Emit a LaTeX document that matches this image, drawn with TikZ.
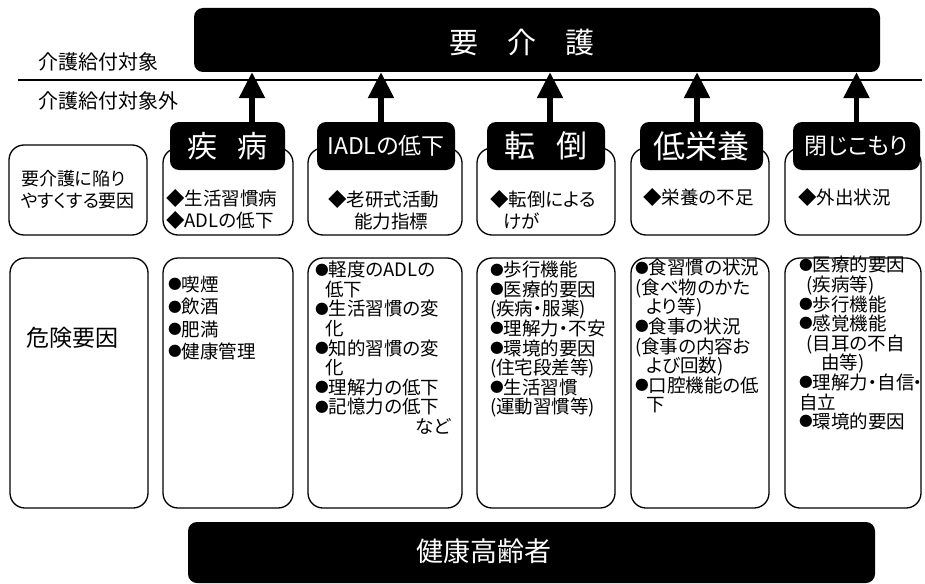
\documentclass[tikz,border=0pt]{standalone}
\usepackage{fontspec}
\setmainfont{Noto Sans CJK JP}[RawFeature=+palt]
\usetikzlibrary{arrows.meta}
\newcommand{\bul}{\raisebox{0.09em}{\scalebox{0.74}{●}}}

\begin{document}
\begin{tikzpicture}[x=1pt,y=-1pt,
        blackbox/.style={fill=black,rounded corners=9pt,inner sep=0pt,text=white},
        whitebox/.style={draw,line width=1.3pt,rounded corners=15pt,inner sep=0pt},
        uparrow/.style={line width=5.5pt,-{Triangle[width=25pt,length=26pt]}},
        link/.style={double,double distance=1.2pt,line width=0.8pt},
        txta/.style={anchor=north west,inner sep=0pt,align=left,font=\fontsize{18.5}{22}\selectfont},
        txtb/.style={anchor=north west,inner sep=0pt,align=left,font=\fontsize{18.5}{19.6}\selectfont}]
    \useasboundingbox (0,0) rectangle (925,583);
    \node[blackbox,minimum width=686pt,minimum height=64pt] (care) at (537,40) {};
    \node[text=white,inner sep=0pt,font=\fontsize{29}{29}\selectfont] (caretxt) at (522,42) {要\hspace{1em}介\hspace{1em}護};
    \coordinate (lineL) at (18,80);
    \coordinate (lineR) at (922,80);
    \draw[line width=2pt] (lineL) -- (lineR);
    \node[anchor=west,inner sep=0pt,font=\fontsize{20}{20}\selectfont] (inside) at (38,62) {介護給付対象};
    \node[anchor=west,inner sep=0pt,font=\fontsize{20}{20}\selectfont] (outside) at (38,101) {介護給付対象外};

    \node[whitebox,minimum width=138pt,minimum height=90pt,align=left,font=\fontsize{18}{22}\selectfont] (cause) at (78,190) {要介護に陥り\\やすくする要因};
    \node[whitebox,minimum width=138pt,minimum height=250pt] (risk) at (79,383) {};
    \node[inner sep=0pt,font=\fontsize{23}{23}\selectfont] (risktxt) at (72,338) {危険要因};

    \node[whitebox,minimum width=130pt,minimum height=87pt] (disA) at (228,191.5) {};
    \node[whitebox,minimum width=154pt,minimum height=87pt] (iadlA) at (385,191.5) {};
    \node[whitebox,minimum width=138pt,minimum height=87pt] (fallA) at (546,191.5) {};
    \node[whitebox,minimum width=138pt,minimum height=87pt] (nutA) at (700,191.5) {};
    \node[whitebox,minimum width=136pt,minimum height=87pt] (homeA) at (853,191.5) {};

    \node[whitebox,minimum width=130pt,minimum height=250pt] (disB) at (228,383) {};
    \node[whitebox,minimum width=154pt,minimum height=250pt] (iadlB) at (385,383) {};
    \node[whitebox,minimum width=138pt,minimum height=250pt] (fallB) at (546,383) {};
    \node[whitebox,minimum width=138pt,minimum height=250pt] (nutB) at (700,383) {};
    \node[whitebox,minimum width=136pt,minimum height=250pt] (homeB) at (853,383) {};

    \node[blackbox,minimum width=115pt,minimum height=48pt,font=\fontsize{30}{30}\selectfont] (dis) at (227.5,146) {疾\hspace{0.7em}病};
    \node[blackbox,minimum width=138pt,minimum height=48pt,font=\fontsize{23}{23}\selectfont] (iadl) at (386,146) {IADLの低下};
    \node[blackbox,minimum width=118pt,minimum height=48pt,font=\fontsize{31}{31}\selectfont] (fall) at (546,146) {転\hspace{0.7em}倒};
    \node[blackbox,minimum width=123pt,minimum height=48pt,font=\fontsize{32}{32}\selectfont] (nut) at (701.5,146) {低栄養};
    \node[blackbox,minimum width=127pt,minimum height=48pt,font=\fontsize{23}{23}\selectfont] (home) at (856.5,146) {閉じこもり};

    \draw[uparrow] ([xshift=24.5pt]dis.north) -- ([xshift=24.5pt]dis.north |- care.south);
    \draw[uparrow] ([xshift=-5pt]iadl.north) -- ([xshift=-5pt]iadl.north |- care.south);
    \draw[uparrow] ([xshift=4pt]fall.north) -- ([xshift=4pt]fall.north |- care.south);
    \draw[uparrow] ([xshift=-4.5pt]nut.north) -- ([xshift=-4.5pt]nut.north |- care.south);
    \draw[uparrow] (home.north) -- (home.north |- care.south);

    \draw[link] (disA) -- (disB);
    \draw[link] (iadlA) -- (iadlB);
    \draw[link] (fallA) -- (fallB);
    \draw[link] (nutA) -- (nutB);
    \draw[link] (homeA) -- (homeB);

    \node[txta] (disAtxt) at (166,189) {◆生活習慣病\\◆ADLの低下};
    \node[txta] (iadlAtxt) at (328,190) {◆老研式活動\\\hspace*{1.4em}能力指標};
    \node[txta] (fallAtxt) at (490,190) {◆転倒による\\\hspace*{0.7em}けが};
    \node[txta] (nutAtxt) at (643,188) {◆栄養の不足};
    \node[txta] (homeAtxt) at (798,188) {◆外出状況};

    \node[txtb,font=\fontsize{18.5}{22.3}\selectfont] (disBtxt) at (168,276) {\bul 喫煙\\\bul 飲酒\\\bul 肥満\\\bul 健康管理};
    \node[txtb] (iadlBtxt) at (315,261) {\bul 軽度のADLの\\\hspace*{0.55em}低下\\\bul 生活習慣の変\\\hspace*{0.55em}化\\\bul 知的習慣の変\\\hspace*{0.55em}化\\\bul 理解力の低下\\\bul 記憶力の低下\\\hspace*{5.4em}など};
    \node[txtb] (fallBtxt) at (490,261) {\bul 歩行機能\\\bul 医療的要因\\(疾病・服薬)\\\bul 理解力・不安\\\bul 環境的要因\\(住宅段差等)\\\bul 生活習慣\\(運動習慣等)};
    \node[txtb] (nutBtxt) at (635,259) {\bul 食習慣の状況\\(食べ物のかた\\\hspace*{0.6em}より等)\\\bul 食事の状況\\(食事の内容お\\\hspace*{0.6em}よび回数)\\\bul 口腔機能の低\\\hspace*{0.6em}下};
    \node[txtb] (homeBtxt) at (799,256) {\bul 医療的要因\\\hspace*{0.4em}(疾病等)\\\bul 歩行機能\\\bul 感覚機能\\\hspace*{0.4em}(目耳の不自\\\hspace*{1.2em}由等)\\\bul 理解力・自信\kern-0.1em・\\自立\\\bul 環境的要因};

    \node[blackbox,minimum width=687pt,minimum height=61pt] (healthy) at (531.5,552.5) {};
    \node[text=white,inner sep=0pt,font=\fontsize{27}{27}\selectfont] (healthytxt) at (484,551) {健康高齢者};
\end{tikzpicture}
\end{document}
